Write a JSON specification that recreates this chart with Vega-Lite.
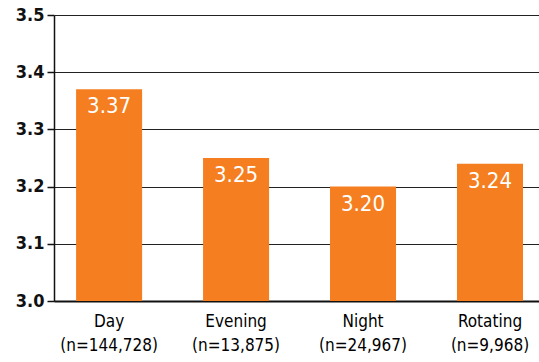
{
  "$schema": "https://vega.github.io/schema/vega-lite/v6.json",
  "width": 485,
  "height": 286,
  "autosize": {"type": "none"},
  "padding": {"left": 54, "top": 15, "right": 0, "bottom": 61},
  "background": "white",
  "config": {
    "view": {"stroke": null},
    "font": "DejaVu Sans Condensed, Liberation Sans Narrow, sans-serif"
  },
  "data": {
    "values": [
      {"shift": "Day|(n=144,728)", "value": 3.37},
      {"shift": "Evening|(n=13,875)", "value": 3.25},
      {"shift": "Night|(n=24,967)", "value": 3.20},
      {"shift": "Rotating|(n=9,968)", "value": 3.24}
    ]
  },
  "encoding": {
    "x": {
      "field": "shift",
      "type": "nominal",
      "sort": null,
      "scale": {"paddingInner": 0.48, "paddingOuter": 0.15, "align": 0.58},
      "axis": {
        "title": null,
        "labelAngle": 0,
        "labelExpr": "split(datum.value, '|')",
        "labelFontSize": 17,
        "labelFontWeight": 500,
        "labelColor": "#000",
        "labelLineHeight": 24,
        "labelPadding": 12,
        "ticks": false,
        "domainColor": "#111",
        "domainWidth": 2,
        "labelFont": "DejaVu Sans Condensed, Liberation Sans Narrow, sans-serif"
      }
    },
    "y": {
      "field": "value",
      "type": "quantitative",
      "scale": {"domain": [3.0, 3.5], "zero": false, "nice": false},
      "axis": {
        "title": null,
        "values": [3.0, 3.1, 3.2, 3.3, 3.4, 3.5],
        "format": ".1f",
        "labelFontSize": 18,
        "labelFontWeight": "bold",
        "labelColor": "#111",
        "labelPadding": 3,
        "tickSize": 7,
        "tickColor": "#111",
        "tickWidth": 1.5,
        "domainColor": "#111",
        "domainWidth": 1.5,
        "grid": true,
        "gridColor": "#222",
        "gridWidth": 1.2,
        "labelFont": "DejaVu Sans Condensed, Liberation Sans Narrow, sans-serif"
      }
    }
  },
  "layer": [
    {"mark": {"type": "bar", "color": "#F47E20", "clip": true}},
    {
      "mark": {
        "type": "text",
        "color": "white",
        "fontSize": 22,
        "fontWeight": 500,
        "baseline": "middle",
        "dy": 17,
        "font": "DejaVu Sans Condensed, Liberation Sans Narrow, sans-serif"
      },
      "encoding": {"text": {"field": "value", "type": "quantitative", "format": ".2f"}}
    }
  ]
}
